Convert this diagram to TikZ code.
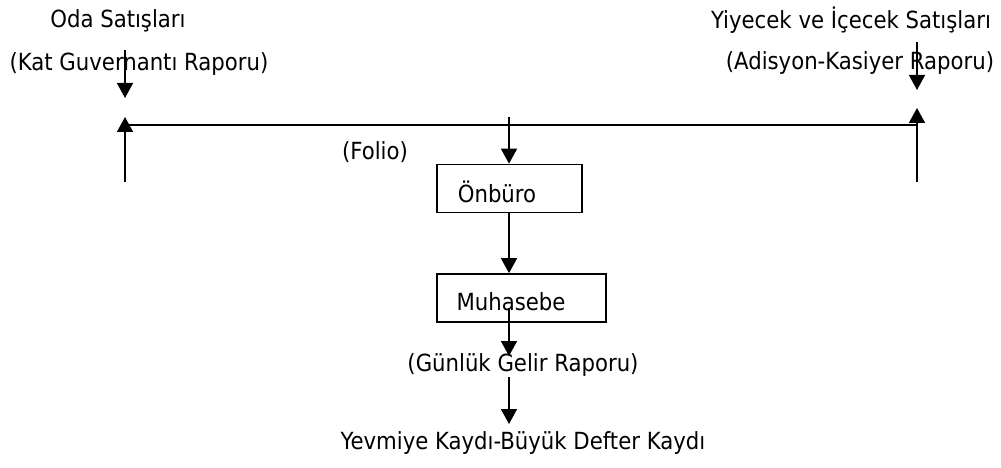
\documentclass[tikz,border=0pt]{standalone}
\usepackage{fontspec}
\setmainfont{DejaVu Sans Condensed}
\usetikzlibrary{arrows.meta}
\begin{document}
\begin{tikzpicture}[x=1pt,y=-1pt,
  lbl/.style={inner sep=0pt,font=\fontsize{23.6}{28}\selectfont,anchor=center},
  boxn/.style={draw,line width=1.7pt,minimum width=#1,minimum height=48pt,inner sep=0pt},
  arr/.style={line width=1.5pt,-{Triangle[length=15pt,width=16pt]}},
  ln/.style={line width=2pt}]
\useasboundingbox (0,0) rectangle (1001,468);
% texts
\node[lbl] (oda) at (118,21) {Oda Satışları};
\node[lbl] (kat) at (139,64) {(Kat Guvernantı Raporu)};
\node[lbl] (yiy) at (851,20) {Yiyecek ve İçecek Satışları};
\node[lbl] (adi) at (860,63) {(Adisyon-Kasiyer Raporu)};
\node[lbl] (folio) at (375,152) {(Folio)};
\node[boxn=145pt] (onb) at (509.5,188.5) {};
\node[lbl] at (497,192) {Önbüro};
\node[boxn=169pt] (muh) at (521.5,298) {};
\node[lbl] (muht) at (511,302) {Muhasebe};
\node[lbl] (gun) at (523,365) {(Günlük Gelir Raporu)};
\node[lbl] (yev) at (523,443) {Yevmiye Kaydı-Büyük Defter Kaydı};
% coordinates
\coordinate (l1) at (125,50);
\coordinate (l2) at (125,98);
\coordinate (l3) at (125,182);
\coordinate (l4) at (125,117);
\coordinate (hl) at (125,125);
\coordinate (hr) at (917,125);
\coordinate (r1) at (917,42);
\coordinate (r2) at (917,90);
\coordinate (r3) at (917,182);
\coordinate (r4) at (917,108);
\coordinate (c1) at (509,117);
\coordinate (m1) at (509,308);
\coordinate (m2) at (509,356);
\coordinate (g1) at (509,377);
\coordinate (g2) at (509,424);
% connectors
\draw[ln] (hl) -- (hr);
\draw[arr] (l1) -- (l2);
\draw[arr] (l3) -- (l4);
\draw[arr] (r1) -- (r2);
\draw[arr] (r3) -- (r4);
\draw[arr] (c1) -- (onb.north -| c1);
\draw[arr] (onb.south -| c1) -- (muh.north -| c1);
\draw[arr] (m1) -- (m2);
\draw[arr] (g1) -- (g2);
\end{tikzpicture}
\end{document}
